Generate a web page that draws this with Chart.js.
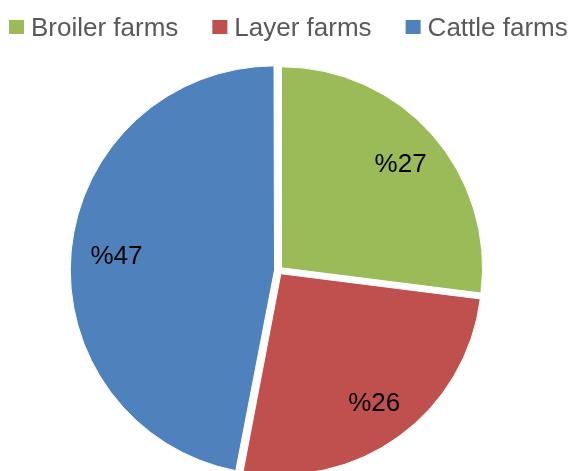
<!DOCTYPE html>
<html>
<head>
<meta charset="utf-8">
<script src="https://cdn.jsdelivr.net/npm/chart.js@4.4.0/dist/chart.umd.min.js"></script>
<style>
  html, body { margin: 0; padding: 0; background: #fff; }
  #wrap { width: 575px; height: 471px; }
</style>
</head>
<body>
<div id="wrap"><canvas id="farmChart"></canvas></div>
<script>
// farm type shares (percent)
const farmTypes = ['Broiler farms', 'Layer farms', 'Cattle farms'];
const farmShares = [27, 26, 47];
const sliceColors = ['#9BBB59', '#C0504D', '#4F81BD'];

// legend drawn on canvas so spacing can follow the original
const topLegend = {
    id: 'topLegend',
    afterDraw(chart) {
        const c = chart.ctx;
        c.save();
        c.font = '26px "Liberation Sans", Arial, sans-serif';
        c.textBaseline = 'middle';
        let x = 9;
        chart.data.labels.forEach((lbl, i) => {
            c.fillStyle = chart.data.datasets[0].backgroundColor[i];
            c.fillRect(x, 20, 15, 14);
            c.fillStyle = '#595959';
            c.fillText(lbl, x + 22, 29);
            x += 22 + c.measureText(lbl).width + 34;
        });
        c.restore();
    }
};

// percent labels inside slices
const sliceLabels = {
    id: 'sliceLabels',
    afterDatasetsDraw(chart) {
        const c = chart.ctx;
        const meta = chart.getDatasetMeta(0);
        c.save();
        c.font = '26px "Liberation Sans", Arial, sans-serif';
        c.fillStyle = '#000';
        c.textAlign = 'center';
        c.textBaseline = 'middle';
        meta.data.forEach((arc, i) => {
            const p = arc.getProps(['x', 'y', 'startAngle', 'endAngle', 'outerRadius'], true);
            const mid = (p.startAngle + p.endAngle) / 2;
            const r = p.outerRadius * 0.79 + 4;
            c.fillText('%' + chart.data.datasets[0].data[i], p.x + Math.cos(mid) * r, p.y + Math.sin(mid) * r + 2);
        });
        c.restore();
    }
};

const ctx = document.getElementById('farmChart').getContext('2d');
new Chart(ctx, {
    type: 'pie',
    data: {
        labels: farmTypes,
        datasets: [{
            data: farmShares,
            backgroundColor: sliceColors,
            borderColor: '#ffffff',
            borderWidth: 1,
            offset: 16,
            hoverOffset: 0
        }]
    },
    options: {
        responsive: true,
        maintainAspectRatio: false,
        animation: false,
        radius: 201,
        layout: { padding: { top: 70, right: 18, bottom: 0, left: 0 } },
        plugins: {
            legend: { display: false },
            tooltip: { enabled: false }
        }
    },
    plugins: [topLegend, sliceLabels]
});
</script>
</body>
</html>
